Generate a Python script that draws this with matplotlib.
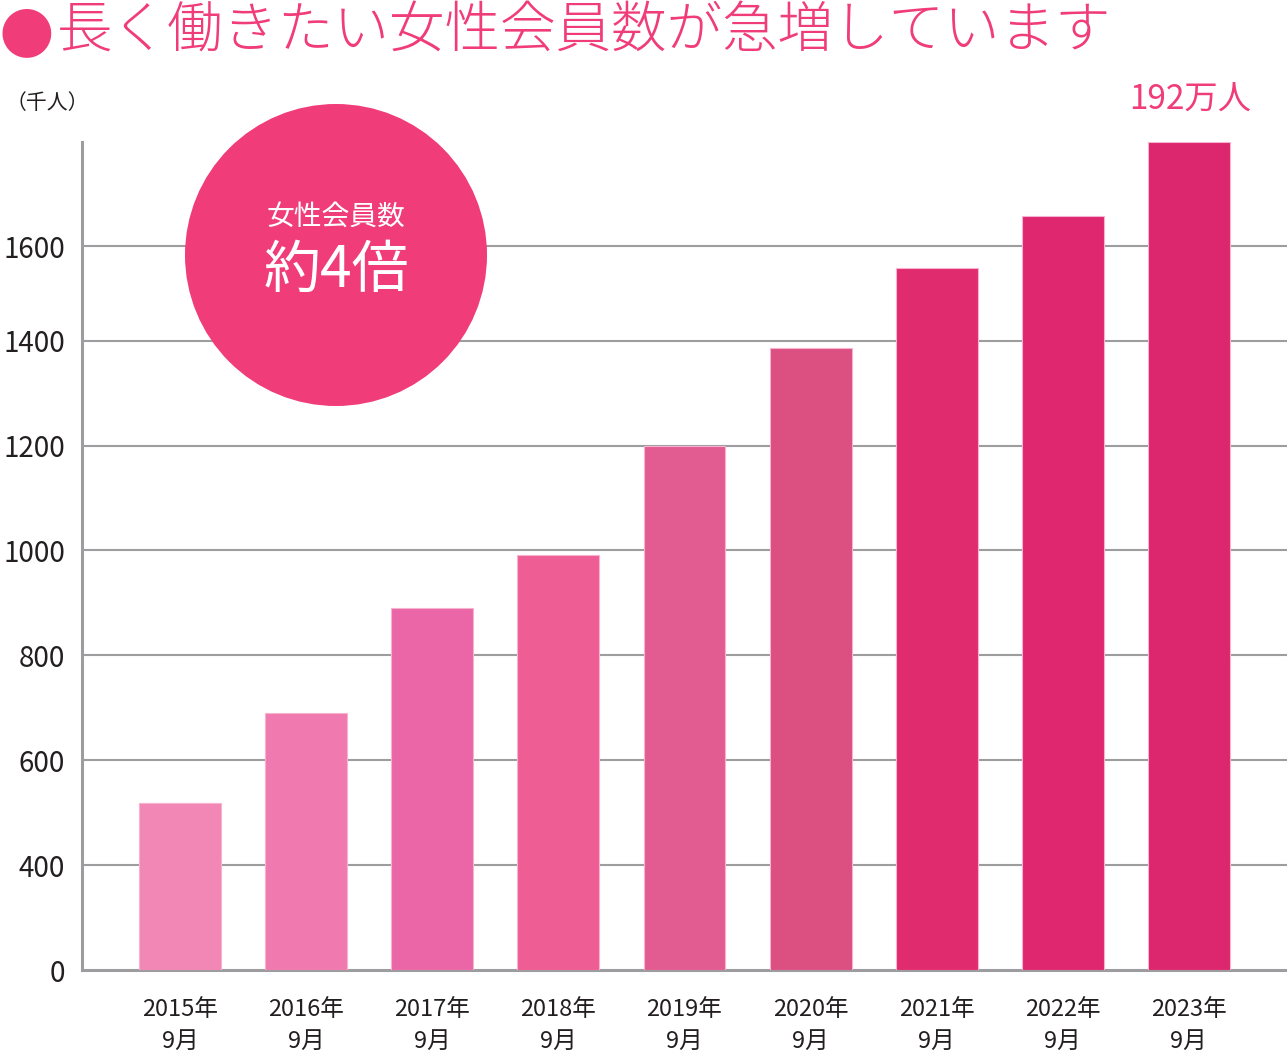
import numpy as np
import matplotlib.pyplot as plt
from matplotlib.patches import Ellipse

plt.rcParams['font.family'] = ['Noto Sans CJK JP', 'DejaVu Sans']

# data (thousand people)
years = ["2015年\n9月", "2016年\n9月", "2017年\n9月", "2018年\n9月", "2019年\n9月",
         "2020年\n9月", "2021年\n9月", "2022年\n9月", "2023年\n9月"]
members = [519, 691, 891, 991, 1200, 1386, 1554, 1665, 1821]
bar_colors = ["#F286B4", "#F07AAF", "#EB66A7", "#EE5E94", "#E25B91",
              "#DB4F81", "#E12B6F", "#DE276E", "#DC266D"]
yticks = [0, 400, 600, 800, 1000, 1200, 1400, 1600]

# broken axis: 0-400 squeezed into one step, top step a little shorter
scale_vals = [0, 400, 600, 800, 1000, 1200, 1400, 1600, 3600]
scale_pos = [0, 1, 2, 3, 4, 5, 6, 6.9, 15.9]

def fwd(v):
    return np.interp(v, scale_vals, scale_pos)

def inv(p):
    return np.interp(p, scale_pos, scale_vals)

pink = "#F03C78"
grid_c = "#9D9D9F"
text_c = "#231F20"

fig = plt.figure(figsize=(12.87, 10.54), dpi=100)
ax = fig.add_axes([82/1287, 1-970/1054, 1-82/1287, (970-142)/1054])
ax.set_yscale('function', functions=(fwd, inv))

x = np.arange(len(years))
ax.bar(x, members, width=0.65, color=bar_colors, edgecolor="#F7B2CF",
       linewidth=0.8, zorder=3)

ax.set_xlim(-0.78, 8.78)
ax.set_ylim(0, members[-1])
ax.set_yticks(yticks)
ax.set_yticklabels([str(t) for t in yticks], fontsize=20, color=text_c)
ax.set_xticks(x)
ax.set_xticklabels(years, fontsize=17, color=text_c, linespacing=1.5)
ax.tick_params(axis='both', length=0)
ax.tick_params(axis='y', pad=12)
ax.tick_params(axis='x', pad=20)

for t in yticks[1:]:
    ax.axhline(t, color=grid_c, linewidth=1.5, zorder=1)

for s in ['top', 'right']:
    ax.spines[s].set_visible(False)
ax.spines['left'].set_color(grid_c)
ax.spines['left'].set_linewidth(2.2)
ax.spines['bottom'].set_color(grid_c)
ax.spines['bottom'].set_linewidth(2.2)

# badge circle
circ = Ellipse((336/1287, 1-255/1054), 302/1287, 302/1054, transform=fig.transFigure,
               facecolor=pink, edgecolor='none', zorder=5)
fig.patches.append(circ)
fig.text(336/1287, 1-217/1054, "女性会員数", color='white', fontsize=20,
         ha='center', va='center', zorder=6)
fig.text(336/1287, 1-271/1054, "約4倍", color='white', fontsize=41,
         ha='center', va='center', zorder=6)

# title and notes
fig.text(-2/1287, 1-31/1054, "●", color=pink, fontsize=46, ha='left', va='center',
         family=['DejaVu Sans'])
fig.text(57/1287, 1-30/1054, "長く働きたい女性会員数が急増しています", color=pink,
         fontsize=40, ha='left', va='center', weight='light')
fig.text(6/1287, 1-103/1054, "（千人）", color=text_c, fontsize=15, ha='left', va='center')
fig.text(1190/1287, 1-100/1054, "192万人", color=pink, fontsize=24, ha='center', va='center')

plt.savefig('out.png', dpi=100)
plt.close()
